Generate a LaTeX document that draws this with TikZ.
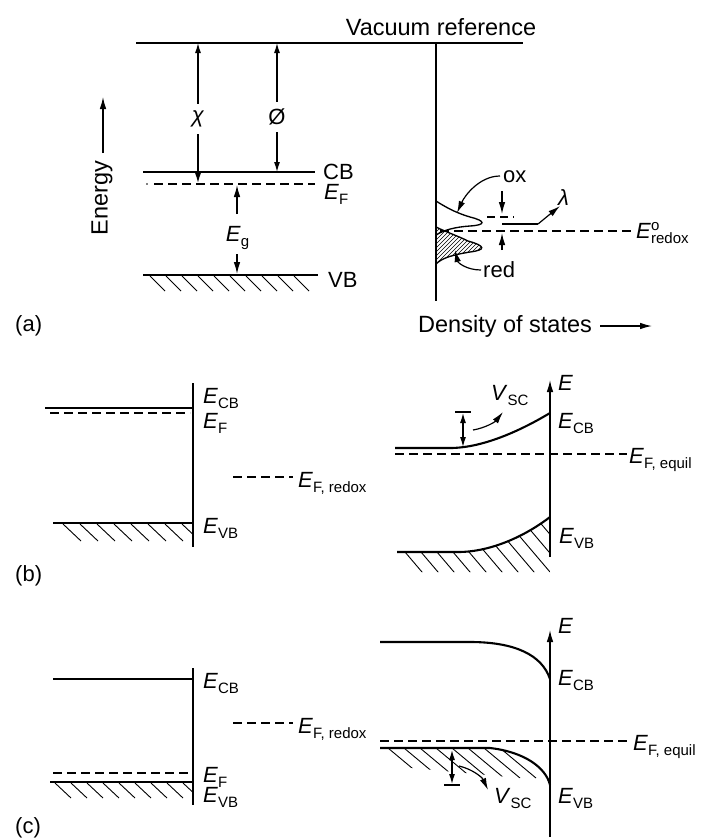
\documentclass[tikz,border=0pt]{standalone}
\usepackage{fontspec}
\setmainfont{Liberation Sans}
\usetikzlibrary{arrows.meta,calc}
\newcommand{\Elab}[1]{\textit{E}\raisebox{-5pt}{\fontsize{15}{15}\selectfont #1}}
\newcommand{\Eredox}{\textit{E}\rlap{\raisebox{8pt}{\fontsize{15}{15}\selectfont o}}\raisebox{-5pt}{\fontsize{15}{15}\selectfont redox}}
\begin{document}
\begin{tikzpicture}[x=1pt,y=-1pt,
  lbl/.style={font=\fontsize{22}{26}\selectfont, inner sep=0pt, anchor=base west},
  big/.style={font=\fontsize{23.5}{28}\selectfont, inner sep=0pt, anchor=base west},
  ln/.style={line width=1.35pt},
  bandc/.style={line width=2.1pt},
  dsh/.style={line width=1.2pt, dash pattern=on 9pt off 5pt},
  hatch/.style={line width=0.9pt},
  fine/.style={line width=0.6pt},
  arr/.style={line width=1.2pt, -{Latex[length=12pt,width=6.5pt]}},
  darr/.style={line width=1.2pt, {Latex[length=10pt,width=6pt]}-{Latex[length=10pt,width=6pt]}},
  gap/.style={fill=white, inner xsep=2pt, inner ysep=7pt, font=\fontsize{22}{26}\selectfont}]
\useasboundingbox (0,0) rectangle (706,839);

% ================= panel (a) =================
\node[big, anchor=base] (vac) at (441,35) {Vacuum reference};
\draw[ln] (136,43) coordinate (vacL) -- (523,43) coordinate (vacR);
\draw[ln] (436,43) coordinate (dosT) -- (436,301) coordinate (dosB);
\draw[ln] (143,172) coordinate (cbL) -- (315,172) coordinate (cbR);
\fill (147,184) circle (0.8pt);
\draw[dsh] (154,184) coordinate (efL) -- (315,184) coordinate (efR);
\draw[ln] (143,275) coordinate (vbL) -- (318,275) coordinate (vbR);
\foreach \x in {150,166,...,302} \draw[hatch] (\x,276) -- ++(15,15);
\node[lbl] (cbA) at (323,179) {CB};
\node[lbl] (efA) at (324,199) {\Elab{F}};
\node[lbl] (vbA) at (328,287) {VB};

% chi and phi
\coordinate (chiT) at (198,43); \coordinate (chiB) at (198,183);
\draw[darr] (chiT) -- (chiB);
\node[gap] (chi) at (198,119) {\textit{χ}};
\coordinate (phiT) at (277,43); \coordinate (phiB) at (277,172);
\draw[darr] (phiT) -- (phiB);
\node[gap] (phi) at (277,117) {Ø};

% band gap
\node[lbl, anchor=base] (Eg) at (237.5,241) {\Elab{g}};
\coordinate (egT) at (237,185); \coordinate (egB) at (237,274);
\draw[arr] (237,214) -- (egT);
\draw[arr] (237,254) -- (egB);

% energy axis
\node[big, rotate=90, anchor=center] (energy) at (102,198) {Energy};
\coordinate (enT) at (103,97);
\draw[arr] (103,153) -- (enT);

% distributions
\begin{scope}
\clip (436,227) .. controls (446,232) and (458,236) .. (468,241)
      .. controls (486,246) and (486,250) .. (470,252)
      .. controls (452,255) and (442,258) .. (436,264) -- cycle;
\foreach \k in {0,...,26} \draw[fine] (388+\k*4,272) -- ++(50,-50);
\end{scope}
\draw[ln] (436,227) .. controls (446,232) and (458,236) .. (468,241)
      .. controls (486,246) and (486,250) .. (470,252)
      .. controls (452,255) and (442,258) .. (436,264);
\draw[ln] (436,201) .. controls (450,210) and (460,214) .. (470,217)
      .. controls (486,221) and (486,225) .. (470,226)
      .. controls (455,227) and (444,230) .. (436,235);
\draw[dsh] (440,231) -- (631,231);
\node[lbl] (redox) at (636,238) {\Eredox};

% lambda
\draw[line width=1.1pt, dash pattern=on 8pt off 5pt] (487,217) -- (514,217);
\coordinate (lamA) at (502,224);
\draw[line width=1.2pt] (lamA) -- (538,224) coordinate (lamB);
\node[lbl] (lam) at (558,205) {\textit{λ}};
\draw[arr] (lamB) -- (560,206);
\draw[arr] (502,191) -- (502,214);
\draw[arr] (502,250) -- (502,233);

% ox / red
\node[lbl] (ox) at (503,182) {ox};
\draw[arr] (500,176) .. controls (480,176) and (465,195) .. (457,213);
\node[lbl] (red) at (483,277) {red};
\draw[arr] (481,270) .. controls (467,270) and (458,263) .. (455,250);

\node[lbl] (la) at (15,331) {(a)};
\node[big] (dos) at (418,332) {Density of states};
\draw[arr] (600,326) -- (652,326);

% ================= panel (b) =================
\draw[ln] (45,408) -- (193,408);
\draw[dsh] (50,413) -- (190,413);
\draw[ln] (193,383) -- (193,547);
\draw[dsh] (233,477) -- (293,477);
\draw[ln] (53,523) -- (193,523);
\begin{scope}
\clip (53,523) rectangle (193,545);
\foreach \x in {63,80,...,182} \draw[hatch] (\x,524) -- ++(18,17);
\end{scope}
\node[lbl] (bcb) at (203,403) {\Elab{CB}};
\node[lbl] (bef) at (203,428) {\Elab{F}};
\node[lbl] (bfr) at (298,487) {\Elab{F, redox}};
\node[lbl] (bvb) at (203,533) {\Elab{VB}};
\node[lbl] (lb) at (15,581) {(b)};

% right
\coordinate (bEt) at (550,380);
\draw[arr] (550,557) -- (bEt);
\node[lbl] (bE) at (558,390) {\textit{E}};
\draw[bandc] (395,448) -- (450,448) .. controls (485,448) and (525,428) .. (550,413);
\draw[bandc] (397,552) -- (458,552) .. controls (493,552) and (528,534) .. (550,517);
\begin{scope}
\clip (397,552) -- (458,552) .. controls (493,552) and (528,534) .. (550,517) -- (550,572) -- (397,572) -- cycle;
\foreach \x in {405,421,...,581} \draw[hatch] (\x-51,492) -- (\x+34,592);
\end{scope}
\draw[dsh] (395,454) -- (627,454);
\node[lbl] (bfe) at (629,463) {\Elab{F, equil}};
\node[lbl] (bcb2) at (558,428) {\Elab{CB}};
\node[lbl] (bvb2) at (559,543) {\Elab{VB}};
\draw[ln] (455,412) -- (471,412);
\draw[darr] (463,413) -- (463,447);
\node[lbl] (bvsc) at (491,400) {\textit{V}\raisebox{-5pt}{\fontsize{15}{15}\selectfont SC}};
\draw[arr] (473,430) .. controls (485,428) and (495,422) .. (503,412);

% ================= panel (c) =================
\draw[ln] (53,679) -- (193,679);
\draw[ln] (193,668) -- (193,805);
\draw[dsh] (233,723) -- (293,723);
\draw[dsh] (53,773) -- (190,773);
\draw[ln] (50,782) -- (193,782);
\begin{scope}
\clip (50,782) rectangle (193,800);
\foreach \x in {55,71,...,183} \draw[hatch] (\x,783) -- ++(16,15);
\end{scope}
\node[lbl] (ccb) at (203,688) {\Elab{CB}};
\node[lbl] (cfr) at (298,733) {\Elab{F, redox}};
\node[lbl] (cef) at (203,782) {\Elab{F}};
\node[lbl] (cvb) at (203,802) {\Elab{VB}};
\node[lbl] (lc) at (15,833) {(c)};

% right
\coordinate (cEt) at (550,630);
\draw[arr] (550,837) -- (cEt);
\node[lbl] (cE) at (558,633) {\textit{E}};
\draw[bandc] (380,642) -- (470,642) .. controls (515,642) and (542,655) .. (550,679);
\draw[bandc] (380,748) -- (490,748) .. controls (525,752) and (546,768) .. (550,785);
\begin{scope}
\clip (380,748) -- (490,748) .. controls (525,752) and (546,768) .. (550,785) -- (530,779) -- (380,765) -- cycle;
\foreach \x in {388,404,...,516} \draw[hatch] (\x-18,733) -- (\x+36,778);
\end{scope}
\draw[dsh] (380,741) -- (630,741);
\node[lbl] (cfe) at (633,750) {\Elab{F, equil}};
\node[lbl] (ccb2) at (558,685) {\Elab{CB}};
\node[lbl] (cvb2) at (558,803) {\Elab{VB}};
\draw[ln] (444,785) -- (460,785);
\draw[darr] (452,750) -- (452,784);
\node[lbl] (cvsc) at (494,803) {\textit{V}\raisebox{-5pt}{\fontsize{15}{15}\selectfont SC}};
\draw[arr] (459,766) .. controls (472,769) and (482,777) .. (488,790);
\end{tikzpicture}
\end{document}
